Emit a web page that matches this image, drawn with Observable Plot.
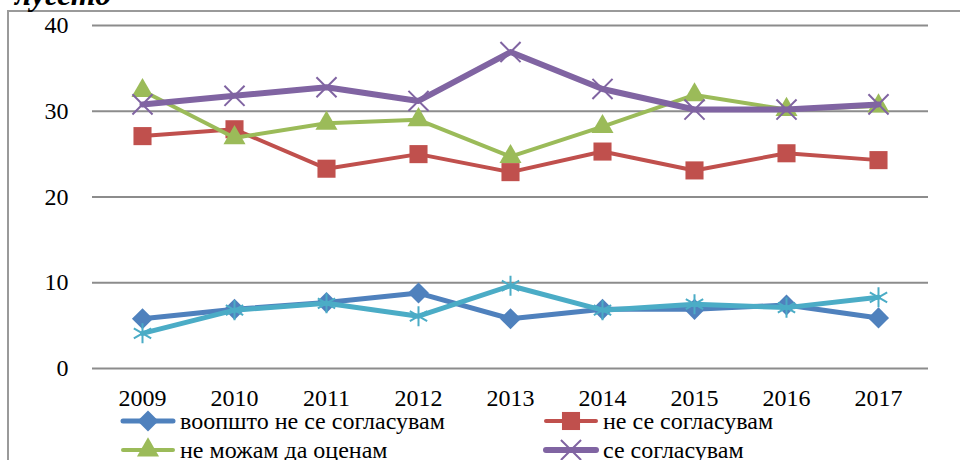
<!DOCTYPE html>
<html><head><meta charset="utf-8">
<script src="https://cdn.jsdelivr.net/npm/d3@7"></script>
<script src="https://cdn.jsdelivr.net/npm/@observablehq/plot@0.6"></script>
<style>
body{margin:0;background:#fff;}
#wrap{position:relative;width:960px;height:460px;overflow:hidden;font-family:'Liberation Serif';background:#fff;}
#chart{position:absolute;left:0;top:0;}
#frame{position:absolute;left:7px;top:10px;width:1000px;height:500px;border-left:2px solid #9a9a9a;border-top:2px solid #9a9a9a;}
#title{position:absolute;left:15px;top:-22px;font-family:'Liberation Serif';font-weight:bold;font-style:italic;font-size:32px;line-height:32px;white-space:nowrap;}
.item{position:absolute;display:flex;align-items:center;font-family:'Liberation Serif';font-size:24px;line-height:30px;height:30px;white-space:nowrap;}
.item svg{margin-right:4px;}
</style>
</head><body>
<div id="wrap">
  <div id="chart"></div>
  <div id="frame"></div>
  <div id="title">лугето</div>
  <div id="legend"></div>
</div>
<script>
const years = ["2009","2010","2011","2012","2013","2014","2015","2016","2017"];
const seriesNames = ["воопшто не се согласувам","не се согласувам","не можам да оценам","се согласувам","целосно се согласувам"];
const strongDisagree = [5.8,6.9,7.7,8.8,5.8,6.9,6.9,7.4,5.9];
const disagree       = [27.1,27.9,23.3,25.0,22.9,25.3,23.1,25.1,24.3];
const cannotJudge    = [32.4,26.9,28.6,29.0,24.7,28.2,31.9,30.2,30.6];
const agree          = [30.8,31.8,32.8,31.2,36.9,32.6,30.2,30.2,30.8];
const strongAgree    = [4.1,6.8,7.6,6.1,9.65,6.8,7.5,7.1,8.3];
const yTicks = [0,10,20,30,40];

const seriesValues = [strongDisagree, disagree, cannotJudge, agree, strongAgree];
const colors = ["#4F81BD","#C0504D","#9BBB59","#8064A2","#4BACC6"];
const symbols = ["diamond2","square","triangle","times","asterisk"];
const filled = [true,true,true,false,false];
const radii = [9.5,10.2,8.2,9.2,9.5];
const lineWidths = [5,4,4,6,5];

const marks = [
  Plot.ruleY(yTicks, {stroke:"#8c8c8c", strokeWidth:1.8})
];
seriesValues.forEach((vals,i)=>{
  const data = vals.map((v,j)=>({year:years[j], value:v, name:seriesNames[i]}));
  marks.push(Plot.line(data,{x:"year",y:"value",stroke:colors[i],strokeWidth:lineWidths[i],strokeLinejoin:"round",strokeLinecap:"round"}));
  marks.push(Plot.dot(data,{x:"year",y:"value",symbol:()=>symbols[i],r:radii[i],
    fill: filled[i]?colors[i]:"none", stroke: filled[i]?"none":colors[i], strokeWidth: filled[i]?0:2}));
});
marks.push(Plot.axisY({ticks:yTicks, tickSize:0, tickPadding:24, label:null, fontSize:24, fontFamily:"Liberation Serif"}));
marks.push(Plot.axisX({tickSize:0, tickPadding:20, label:null, fontSize:24, fontFamily:"Liberation Serif"}));

const chart = Plot.plot({
  width:960, height:410,
  marginLeft:92, marginRight:32, marginTop:25, marginBottom:42,
  x:{type:"point", domain:years, padding:0.5},
  y:{domain:[0,40]},
  style:{background:"transparent", color:"#000", fontFamily:"Liberation Serif", fontSize:"24px"},
  marks
});
document.getElementById("chart").appendChild(chart);

// legend (first four entries visible; the box is cut off below)
const legendPos = [[120,406],[543,406],[120,435],[543,435]];
const legend = document.getElementById("legend");
const symMap = {diamond2:d3.symbolDiamond2, square:d3.symbolSquare, triangle:d3.symbolTriangle, times:d3.symbolTimes, asterisk:d3.symbolAsterisk};
legendPos.forEach(([lx,ly],i)=>{
  const item = document.createElement("div");
  item.className = "item";
  item.style.left = lx+"px"; item.style.top = ly+"px";
  const svg = d3.create("svg").attr("width",56).attr("height",30);
  svg.append("line").attr("x1",3).attr("x2",53).attr("y1",15).attr("y2",15)
    .attr("stroke",colors[i]).attr("stroke-width",lineWidths[i]).attr("stroke-linecap","round");
  const size = Math.PI*radii[i]*radii[i];
  svg.append("path").attr("transform","translate(28,15)")
    .attr("d", d3.symbol(symMap[symbols[i]], size)())
    .attr("fill", filled[i]?colors[i]:"none").attr("stroke", filled[i]?"none":colors[i]).attr("stroke-width",2);
  item.appendChild(svg.node());
  const t = document.createElement("span");
  t.textContent = seriesNames[i];
  item.appendChild(t);
  legend.appendChild(item);
});
</script>
</body></html>
